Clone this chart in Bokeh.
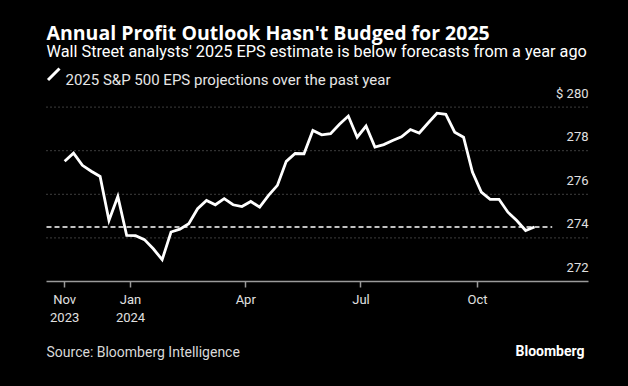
import pandas as pd
from bokeh.plotting import figure
from bokeh.models import Range1d, FixedTicker, Label, Arrow, ColumnDataSource
from bokeh.embed import file_html
from bokeh.resources import INLINE
from bokeh.core.properties import value

# ---- data ----
start_date = "2023-11-10"
n_weeks = 54
eps = [277.52, 277.89, 277.33, 277.06, 276.82, 274.80, 275.90, 274.11, 274.10, 273.92,
       273.50, 273.00, 274.27, 274.40, 274.65, 275.34, 275.72, 275.52, 275.80, 275.52,
       275.44, 275.67, 275.41, 275.95, 276.41, 277.51, 277.87, 277.86, 278.93, 278.73,
       278.78, 279.21, 279.59, 278.62, 279.13, 278.17, 278.28, 278.47, 278.64, 278.97,
       278.81, 279.27, 279.72, 279.67, 278.85, 278.62, 277.02, 276.10, 275.77, 275.77,
       275.18, 274.80, 274.34, 274.50]
tick_dates = ["2023-11-10", "2024-01-01", "2024-04-01", "2024-07-01", "2024-10-01"]
tick_labels = ["Nov\n2023", "Jan\n2024", "Apr", "Jul", "Oct"]
y_ticks = [272, 274, 276, 278, 280]
y_labels = ["272", "274", "276", "278", "$ 280"]
dash_end_date = "2024-11-29"

title = "Annual Profit Outlook Hasn't Budged for 2025"
subtitle = "Wall Street analysts' 2025 EPS estimate is below forecasts from a year ago"
legend_text = "2025 S&P 500 EPS projections over the past year"
source = "Source: Bloomberg Intelligence"

# ---- layout helpers ----
W, H = 628, 386
origin = pd.Timestamp("2024-01-01")
JAN1_PX, PX_PER_DAY = 130.0, 1.2664
Y272_PX, PX_PER_UNIT = 281.0, 21.8

def day(d):
    return (pd.Timestamp(d) - origin).days

def px2day(px):
    return (px - JAN1_PX) / PX_PER_DAY

dates = pd.date_range(start_date, periods=n_weeks, freq="7D")
xs = [(d - origin).days for d in dates]
tick_x = [day(d) for d in tick_dates]
ax_lo, ax_hi = px2day(46), px2day(588)

FONT = "Roboto"
p = figure(width=W, height=H, output_backend="svg", toolbar_location=None,
           x_range=Range1d(px2day(0), px2day(W)),
           y_range=Range1d(272 - (H - Y272_PX) / PX_PER_UNIT, 272 + Y272_PX / PX_PER_UNIT),
           y_axis_location=None, min_border=0)
p.background_fill_color = "black"
p.border_fill_color = "black"
p.outline_line_color = None
p.xgrid.visible = False
p.ygrid.visible = False

# dotted gridlines
p.segment(x0=[ax_lo] * 4, y0=y_ticks[1:], x1=[ax_hi] * 4, y1=y_ticks[1:],
          line_color="#7a7a7a", line_width=1, line_dash="1 3")

ax = p.xaxis[0]
ax.fixed_location = y_ticks[0]
ax.bounds = (ax_lo, ax_hi)
ax.ticker = FixedTicker(ticks=tick_x)
ax.major_label_overrides = {tx: lab for tx, lab in zip(tick_x, tick_labels)}
ax.axis_line_color = "#9a9a9a"
ax.axis_line_width = 1.5
ax.major_tick_line_color = "#9a9a9a"
ax.major_tick_line_width = 1.5
ax.major_tick_out = 6
ax.major_tick_in = 0
ax.minor_tick_line_color = None
ax.major_label_text_color = "#e0e0e0"
ax.major_label_text_font = FONT
ax.major_label_text_font_size = "13px"
ax.major_label_standoff = 4

# dashed latest-value line
p.segment(x0=[ax_lo], y0=[eps[-1]], x1=[day(dash_end_date)], y1=[eps[-1]],
          line_color="white", line_width=1.5, line_dash="5 3")
# main line
p.line(xs, eps, line_color="white", line_width=2.8, line_join="miter")

# y labels above gridlines, right aligned
src = ColumnDataSource(dict(x=[ax_hi] * len(y_ticks), y=y_ticks, t=y_labels))
p.text(x="x", y="y", text="t", source=src, text_align="right", text_baseline="middle",
       y_offset=-14, text_color="#e0e0e0", text_font=value(FONT), text_font_size="13px")

def lab(txt, x, y, size, color, bold=False, align="left", font=FONT):
    p.add_layout(Label(x=x, y=y, x_units="canvas", y_units="canvas", text=txt,
                       text_font=font, text_font_size=size, text_color=color,
                       text_font_style="bold" if bold else "normal",
                       text_align=align, text_baseline="alphabetic"))

lab(title, 46, 32, "19.5px", "white", bold=True, font="Open Sans")
lab(subtitle, 46, 51, "16.3px", "white")
lab(legend_text, 65, 79, "15px", "#e6e6e6")
lab(source, 46, 351, "14px", "#d9d9d9")
lab("Bloomberg", 584, 350, "14px", "white", bold=True, align="right")
p.add_layout(Arrow(end=None, x_start=47.5, y_start=79.5, x_end=59, y_end=68,
                   start_units="canvas", end_units="canvas",
                   line_color="white", line_width=3))

tmpl = """{% block postamble %}<style>html, body { background-color: #000000; }</style>{% endblock %}"""
open("out.html", "w").write(file_html(p, INLINE, template=tmpl))
